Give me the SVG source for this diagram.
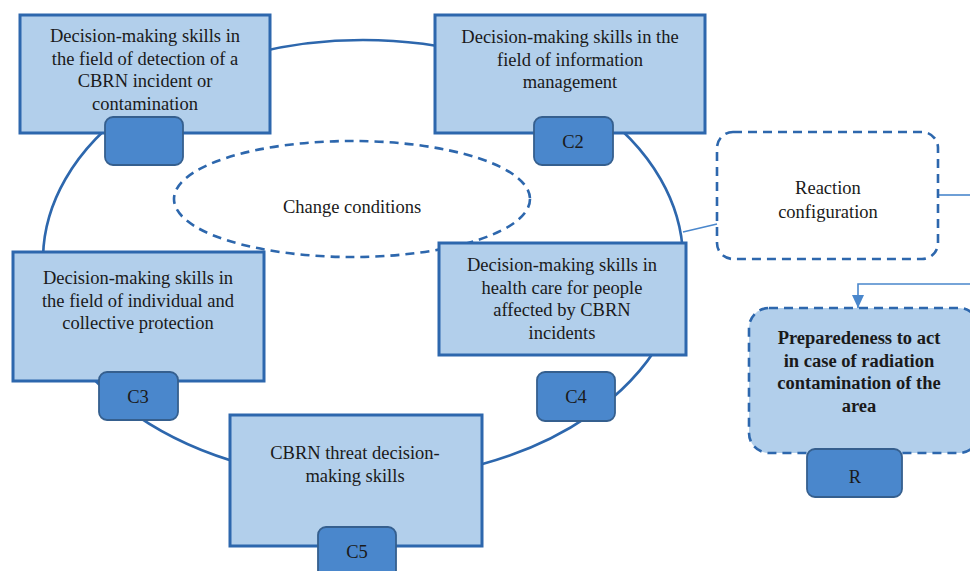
<svg xmlns="http://www.w3.org/2000/svg" width="970" height="571" viewBox="0 0 970 571" font-family="'Liberation Serif', 'DejaVu Serif', serif">
<defs>
<style>
.box{fill:#B2CFEB;stroke:#2D67AD;stroke-width:3}
.tab{fill:#4A87CC;stroke:#355F8E;stroke-width:1.8}
.dash{fill:none;stroke:#2D67AD;stroke-width:2.6;stroke-dasharray:9 6}
.dashf{fill:#B2CFEB;stroke:#2D67AD;stroke-width:2.6;stroke-dasharray:9 6}
.ring{fill:none;stroke:#2D67AD;stroke-width:2.6}
.conn{fill:none;stroke:#4A87CC;stroke-width:1.6}
text{font-family:'Liberation Serif', 'DejaVu Serif', serif;font-size:18.5px;fill:#1a1a1a;text-anchor:middle}
.b{font-weight:bold}
</style>
<marker id="arr" markerWidth="13" markerHeight="12" refX="13" refY="6" orient="auto" markerUnits="userSpaceOnUse" viewBox="0 0 13 12">
<path d="M0,0 L13,6 L0,12 Z" fill="#4A87CC"/>
</marker>
</defs>
<rect width="970" height="571" fill="#fff"/>
<g id="connectors">
<ellipse class="ring" cx="363" cy="260" rx="320" ry="220"/>
<line class="conn" x1="683" y1="232" x2="717" y2="224"/>
<line class="conn" x1="938" y1="195" x2="970" y2="195"/>
<polyline class="conn" points="970,284 858,284 858,308" marker-end="url(#arr)"/>
</g>
<g id="change-conditions">
<ellipse class="dash" cx="352" cy="199" rx="178" ry="58"/>
<text x="352" y="213">Change conditions</text>
</g>
<g id="c1">
<rect class="box" x="20" y="15" width="250" height="118"/>
<text x="145" y="42">Decision-making skills in</text>
<text x="145" y="64.5">the field of detection of a</text>
<text x="145" y="87">CBRN incident or</text>
<text x="145" y="109.5">contamination</text>
<rect class="tab" x="105" y="117" width="78" height="48" rx="8"/>
</g>
<g id="c2">
<rect class="box" x="435" y="15" width="270" height="118"/>
<text x="570" y="43">Decision-making skills in the</text>
<text x="570" y="65.5">field of information</text>
<text x="570" y="88">management</text>
<rect class="tab" x="534" y="117" width="79" height="48" rx="8"/>
<text x="573" y="148">C2</text>
</g>
<g id="c3">
<rect class="box" x="13" y="252" width="251" height="129"/>
<text x="138" y="284">Decision-making skills in</text>
<text x="138" y="306.5">the field of individual and</text>
<text x="138" y="329">collective protection</text>
<rect class="tab" x="99" y="372" width="79" height="48" rx="8"/>
<text x="138" y="403">C3</text>
</g>
<g id="c4">
<rect class="box" x="439" y="243" width="247" height="112"/>
<text x="562" y="271">Decision-making skills in</text>
<text x="562" y="293.5">health care for people</text>
<text x="562" y="316">affected by CBRN</text>
<text x="562" y="338.5">incidents</text>
<rect class="tab" x="537" y="372" width="78" height="49" rx="8"/>
<text x="576" y="403">C4</text>
</g>
<g id="c5">
<rect class="box" x="230" y="415" width="252" height="131"/>
<text x="355" y="459">CBRN threat decision-</text>
<text x="355" y="481.5">making skills</text>
<rect class="tab" x="318" y="527" width="78" height="56" rx="8"/>
<text x="357" y="558">C5</text>
</g>
<g id="reaction">
<rect class="dash" x="717" y="132" width="221" height="127" rx="16"/>
<text x="828" y="194">Reaction</text>
<text x="828" y="218">configuration</text>
</g>
<g id="preparedness">
<rect class="dashf" x="749" y="308" width="230" height="145" rx="20"/>
<text class="b" x="859" y="344">Preparedeness to act</text>
<text class="b" x="859" y="366.5">in case of radiation</text>
<text class="b" x="859" y="389">contamination of the</text>
<text class="b" x="859" y="411.5">area</text>
<rect class="tab" x="807" y="449" width="95" height="48" rx="8"/>
<text x="855" y="483">R</text>
</g>
</svg>
